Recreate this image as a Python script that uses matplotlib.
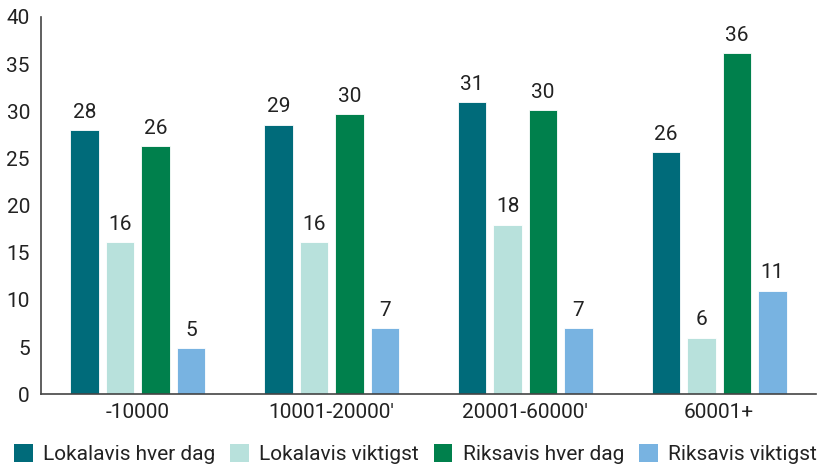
import numpy as np
import matplotlib.pyplot as plt
from matplotlib.patches import Patch

# dados
grupos = ['-10000', "10001-20000'", "20001-60000'", '60001+']
series = ['Lokalavis hver dag', 'Lokalavis viktigst', 'Riksavis hver dag', 'Riksavis viktigst']
lokal_hver_dag = [28.0, 28.6, 31.0, 25.7]
lokal_viktigst = [16.1, 16.1, 18.0, 6.0]
riks_hver_dag = [26.3, 29.7, 30.1, 36.2]
riks_viktigst = [4.9, 7.0, 7.0, 11.0]
cores = ['#006b7a', '#b8e1dc', '#00804c', '#78b3e1']

plt.rcParams['font.family'] = ['Roboto', 'DejaVu Sans']
texto = '#222222'
fs = 15

fig = plt.figure(figsize=(8.26, 4.69), dpi=100)
ax = fig.add_axes([41 / 826, 1 - 394.3 / 469, (816 - 41) / 826, (394.3 - 17) / 469])

x = np.arange(len(grupos))
passo = 0.183
largura = 0.147
valores = [lokal_hver_dag, lokal_viktigst, riks_hver_dag, riks_viktigst]
for i, (vals, cor) in enumerate(zip(valores, cores)):
    pos = x + (i - 1.5) * passo
    ax.bar(pos, vals, width=largura, color=cor, edgecolor='white', linewidth=0.6)
    for xp, v in zip(pos, vals):
        ax.annotate(f'{round(v):d}', (xp, v), xytext=(0, 6), textcoords='offset points',
                    ha='center', va='bottom', fontsize=fs, color=texto)

ax.set_xlim(-0.5, 3.5)
ax.set_ylim(0, 40)
ax.set_yticks(range(0, 41, 5))
ax.set_xticks(x)
ax.set_xticklabels(grupos)
ax.tick_params(axis='both', length=0, labelsize=fs, colors=texto)
ax.tick_params(axis='y', pad=8)
ax.tick_params(axis='x', pad=6)
for s in ['top', 'right']:
    ax.spines[s].set_visible(False)
for s in ['left', 'bottom']:
    ax.spines[s].set_color('#444444')
    ax.spines[s].set_linewidth(1.2)

handles = [Patch(facecolor=c, edgecolor='none') for c in cores]
fig.legend(handles, series, loc='lower center', bbox_to_anchor=(0.503, -0.03), ncol=4,
           frameon=False, fontsize=fs, handlelength=0.9, handleheight=0.9,
           handletextpad=0.5, columnspacing=0.7, labelcolor=texto)

fig.savefig('out.png', dpi=100)
